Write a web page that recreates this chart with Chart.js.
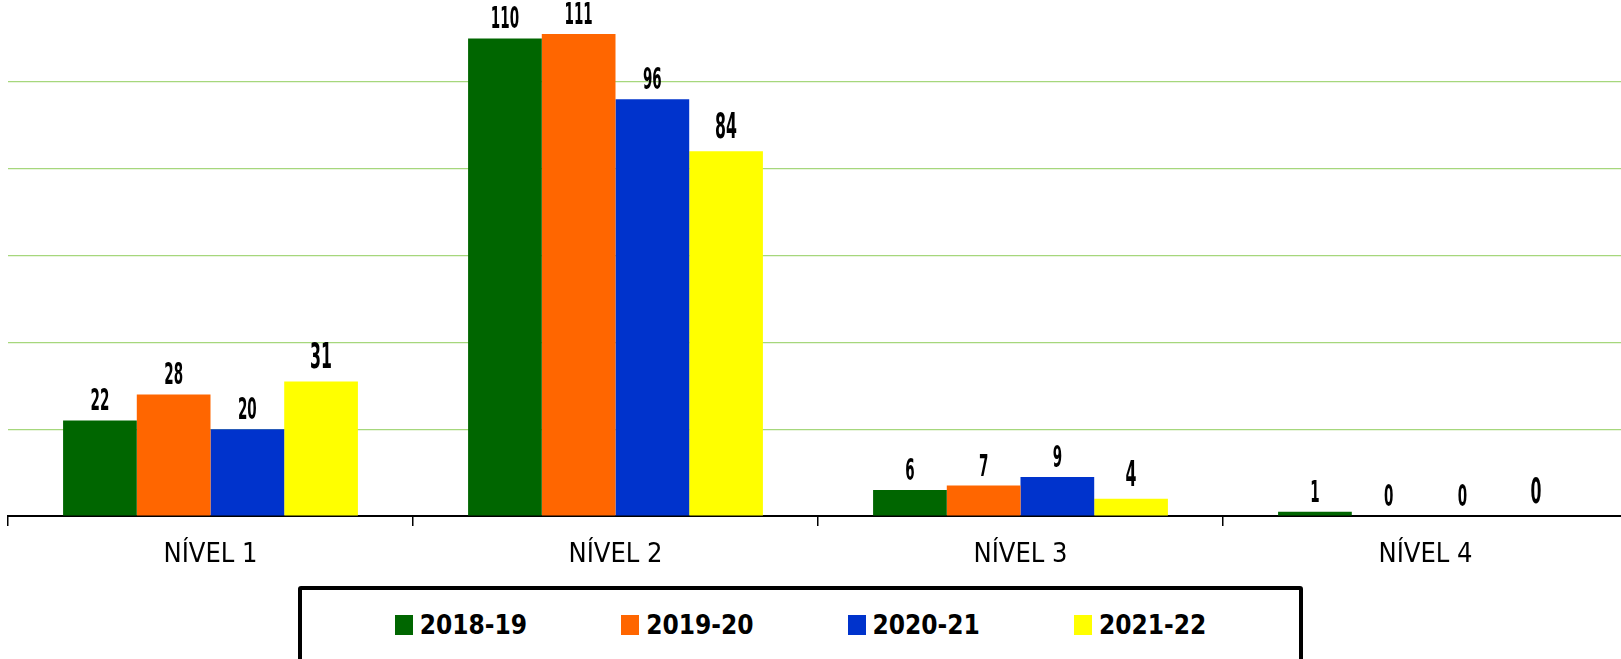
<!DOCTYPE html>
<html lang="pt">
<head>
<meta charset="utf-8">
<title>Níveis por ano letivo</title>
<script src="https://cdn.jsdelivr.net/npm/chart.js@4.4.1/dist/chart.umd.min.js"></script>
<style>
    body {
        margin: 0;
        width: 1621px;
        height: 659px;
        overflow: hidden;
        background: #FFF;
        position: relative;
    }
    #myChart {
        position: absolute;
        left: 0;
        top: -10px;
    }
    #legenda {
        position: absolute;
        left: 298px;
        top: 586px;
        width: 997px;
        height: 100px;
        border: 4px solid #000;
        border-radius: 3px;
        box-sizing: content-box;
        display: flex;
        justify-content: center;
        padding-top: 20px;
        gap: 94px;
        font-family: "DejaVu Sans Condensed", "Liberation Sans", sans-serif;
        font-weight: bold;
        font-size: 26px;
        line-height: 30px;
        color: #000;
    }
    .item {
        display: flex;
        align-items: center;
        height: 30px;
    }
    .quadrado {
        width: 18px;
        height: 20px;
        margin-right: 7px;
    }
</style>
</head>
<body>
<canvas id="myChart" width="1640" height="590"></canvas>
<div id="legenda"></div>

<script>
// dados
const niveis = ['NÍVEL 1', 'NÍVEL 2', 'NÍVEL 3', 'NÍVEL 4'];
const anos = ['2018-19', '2019-20', '2020-21', '2021-22'];
const valores2018 = [22, 110, 6, 1];
const valores2019 = [28, 111, 7, 0];
const valores2020 = [20, 96, 9, 0];
const valores2021 = [31, 84, 4, 0];
const marcasY = [0, 20, 40, 60, 80, 100, 120];

const cores = ['#006600', '#FF6600', '#0033CC', '#FFFF00'];
const todosValores = [valores2018, valores2019, valores2020, valores2021];

// rótulos em cima das barras (sem plugin externo)
const rotulosBarras = {
    id: 'rotulosBarras',
    afterDatasetsDraw(chart) {
        const ctx = chart.ctx;
        chart.data.datasets.forEach(function (ds, i) {
            var meta = chart.getDatasetMeta(i);
            var ultimo = i === chart.data.datasets.length - 1;
            meta.data.forEach(function (barra, j) {
                ctx.save();
                ctx.translate(barra.x, barra.y - (ultimo ? 13 : 10));
                ctx.scale(0.5, 1);
                ctx.fillStyle = '#000';
                ctx.textAlign = 'center';
                ctx.textBaseline = 'alphabetic';
                ctx.font = 'bold ' + (ultimo ? '35px' : '30px') + ' "DejaVu Sans Condensed", sans-serif';
                ctx.fillText(String(ds.data[j]), 0, 0);
                ctx.restore();
            });
        });
    }
};

var datasets = [];
for (var i = 0; i < anos.length; i++) {
    datasets.push({
        label: anos[i],
        data: todosValores[i],
        backgroundColor: cores[i],
        borderWidth: 0,
        barPercentage: 1,
        categoryPercentage: 0.728
    });
}

const config = {
    type: 'bar',
    data: {
        labels: niveis,
        datasets: datasets
    },
    options: {
        responsive: false,
        animation: false,
        devicePixelRatio: 1,
        layout: {
            padding: { left: 8, right: 12, top: 5, bottom: 0 }
        },
        scales: {
            x: {
                grid: {
                    display: true,
                    drawOnChartArea: false,
                    drawTicks: true,
                    tickLength: 10,
                    color: '#000',
                    lineWidth: 1.5
                },
                border: {
                    display: true,
                    color: '#000',
                    width: 2
                },
                ticks: {
                    color: '#000',
                    padding: 13,
                    font: {
                        family: '"DejaVu Sans Condensed", sans-serif',
                        size: 27
                    }
                },
                afterFit: function (scale) {
                    scale.height = 64;
                }
            },
            y: {
                min: 0,
                max: 120,
                afterBuildTicks: function (scale) {
                    scale.ticks = marcasY.map(function (v) { return { value: v }; });
                },
                ticks: { display: false },
                border: { display: false },
                grid: {
                    drawTicks: false,
                    lineWidth: 1.2,
                    color: function (c) {
                        return c.tick && c.tick.value === 0 ? 'rgba(0,0,0,0)' : '#A6D77C';
                    }
                },
                afterFit: function (scale) {
                    scale.width = 0;
                }
            }
        },
        plugins: {
            legend: { display: false },
            tooltip: { enabled: false }
        }
    },
    plugins: [rotulosBarras]
};

let myChart = new Chart(document.getElementById('myChart'), config);

// legenda em HTML com moldura preta
var legenda = document.getElementById('legenda');
anos.forEach(function (ano, i) {
    var item = document.createElement('div');
    item.className = 'item';
    var q = document.createElement('span');
    q.className = 'quadrado';
    q.style.background = cores[i];
    var t = document.createElement('span');
    t.textContent = ano;
    item.appendChild(q);
    item.appendChild(t);
    legenda.appendChild(item);
});
</script>
</body>
</html>
